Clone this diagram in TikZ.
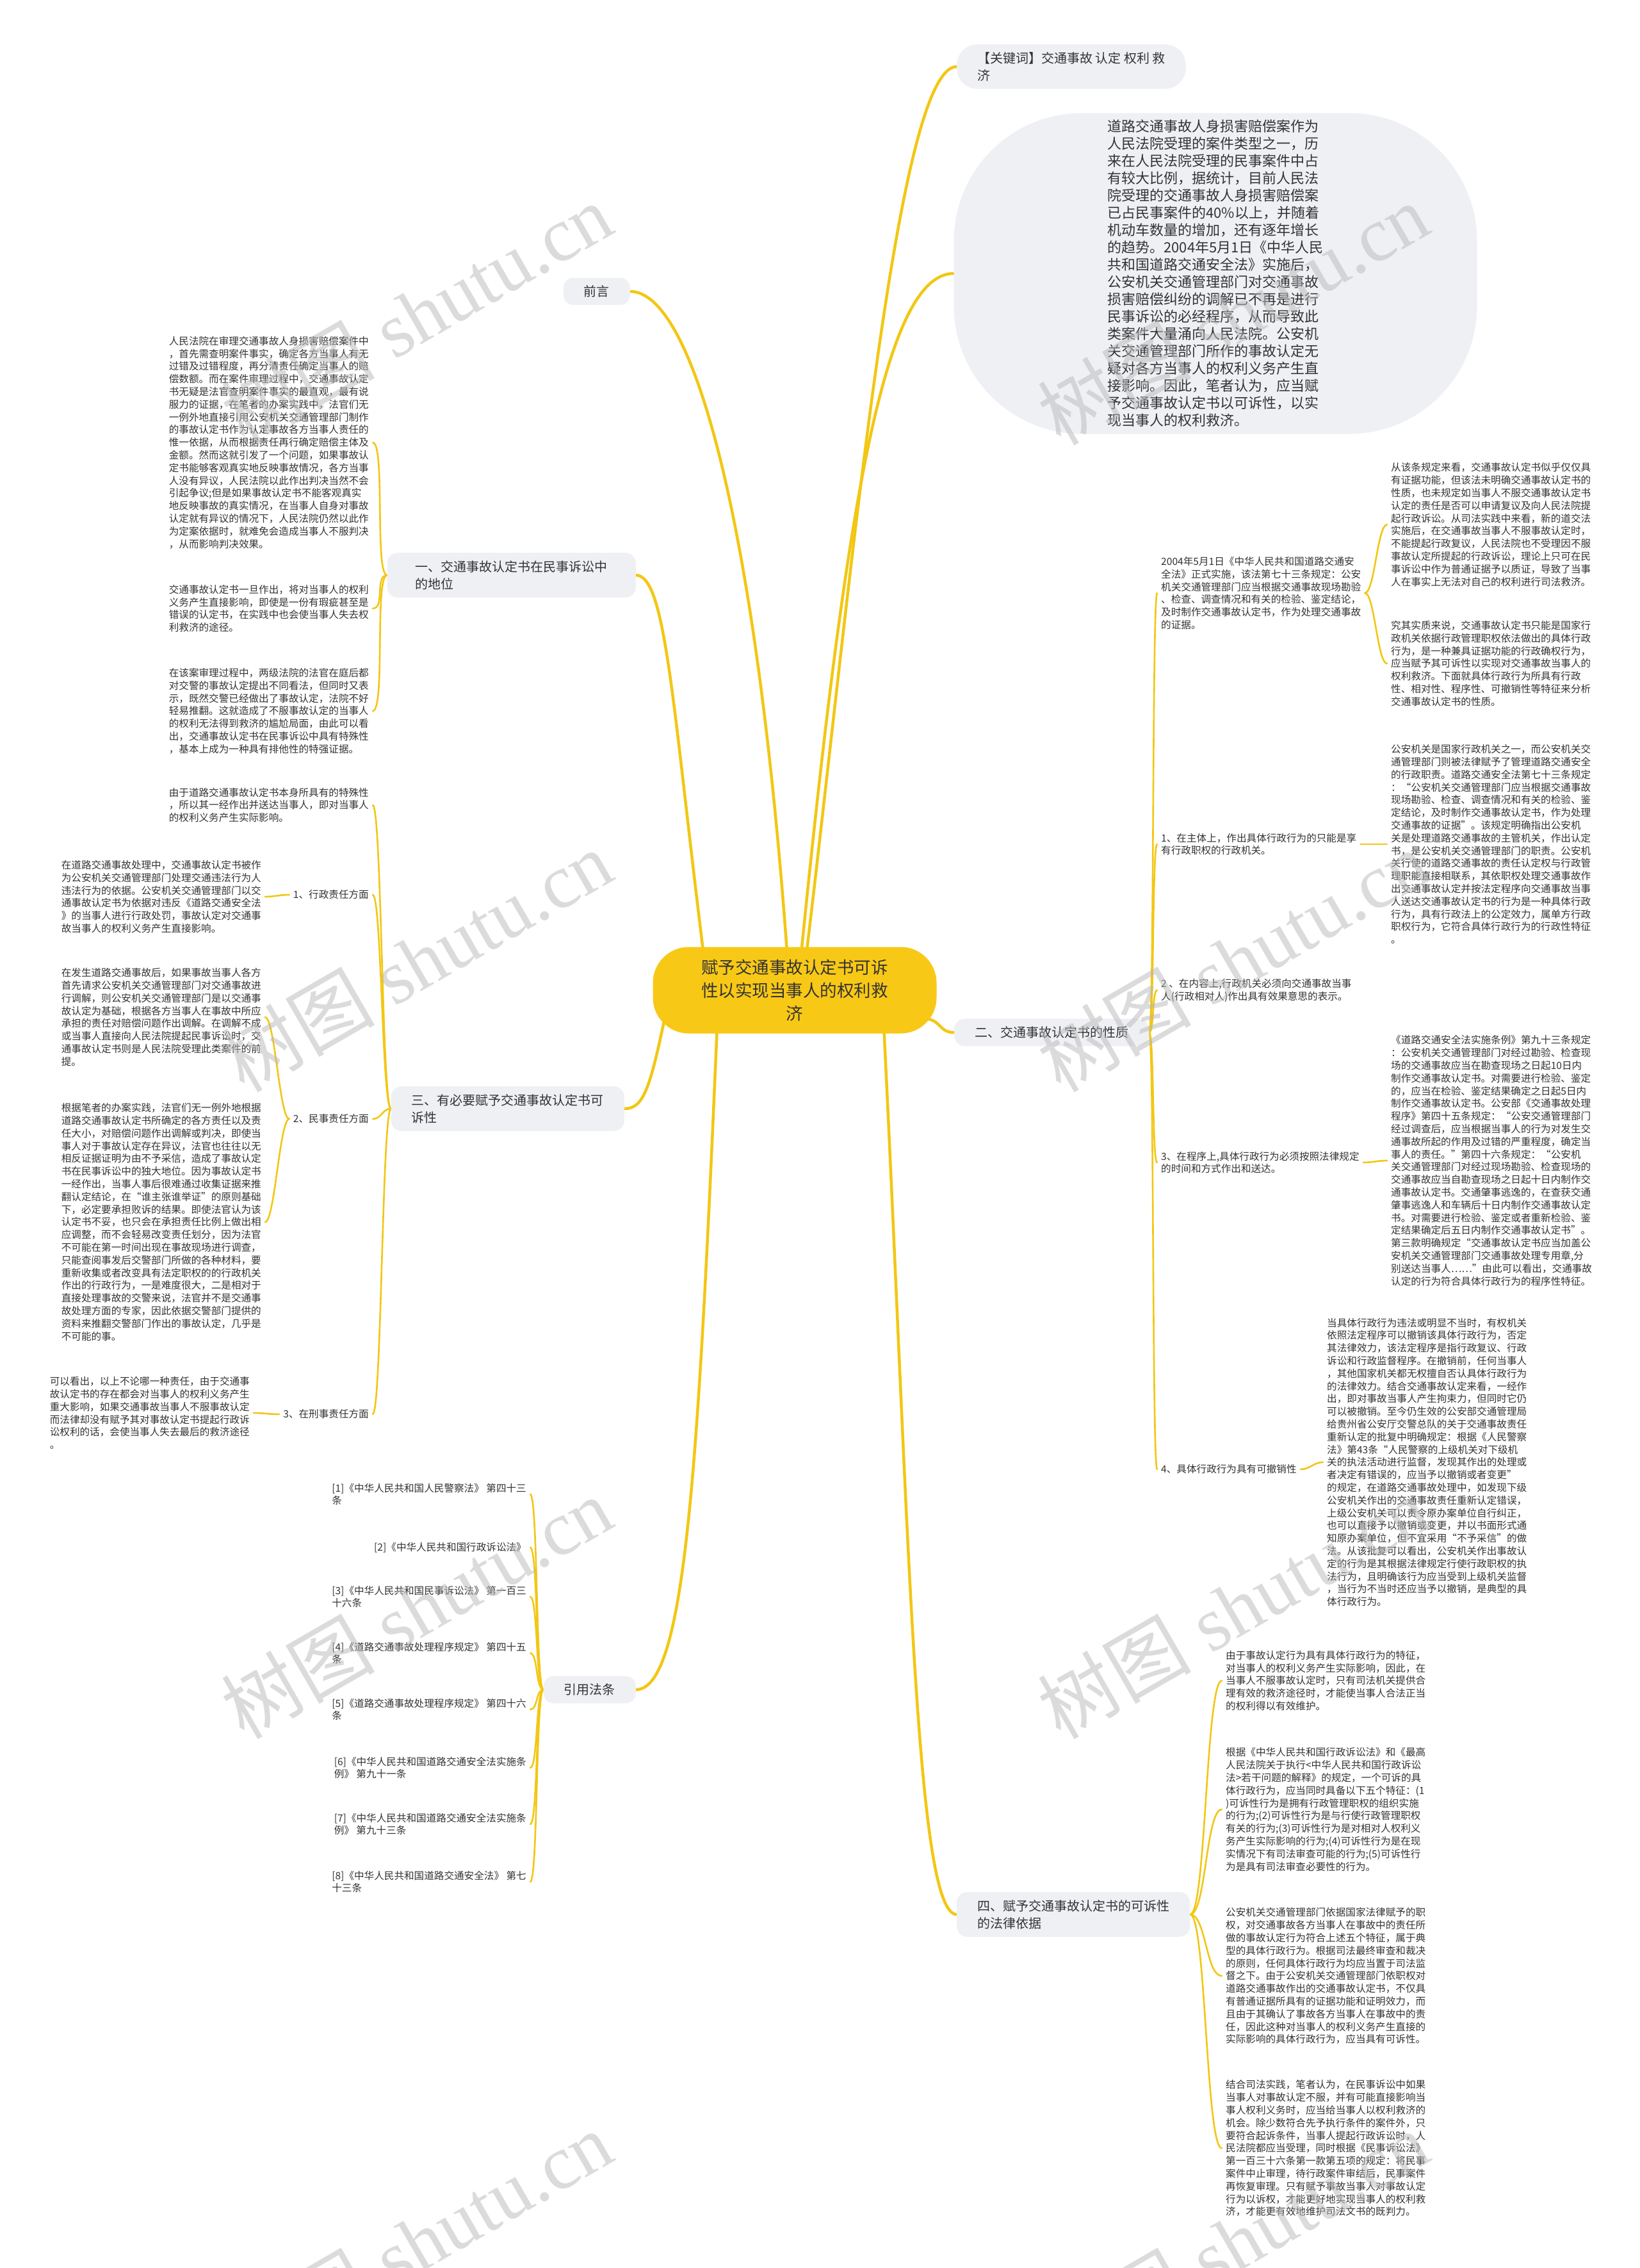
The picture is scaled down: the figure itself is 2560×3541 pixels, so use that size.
\documentclass[tikz,border=0pt]{standalone}
\usepackage{fontspec}
\setmainfont{Noto Sans CJK SC}
\newfontfamily\wmserif{Liberation Serif}
\pgfdeclarelayer{bg}
\pgfsetlayers{bg,main}
\definecolor{lnk}{RGB}{242,199,20}
\definecolor{boxfill}{RGB}{238,240,244}
\definecolor{rootfill}{RGB}{248,200,22}
\definecolor{txt}{RGB}{51,51,51}
\definecolor{wmgray}{RGB}{185,185,185}
\newcommand\cR[3]{\draw[link] (#1) .. controls +(#3,0) and +(-#3,0) .. (#2);}
\newcommand\cL[3]{\draw[link] (#1) .. controls +(-#3,0) and +(#3,0) .. (#2);}
\begin{document}
\begin{tikzpicture}[x=1pt,y=-1pt,
  body/.style={font=\fontsize{15.6}{19.8}\selectfont, text=txt, align=left, inner xsep=6pt, inner ysep=2pt},
  lbl/.style={font=\fontsize{20}{27}\selectfont, text=txt, align=left, fill=boxfill, rounded corners=16pt, inner xsep=32pt, inner ysep=12pt},
  rootnode/.style={fill=rootfill, rounded corners=56pt, minimum width=443pt, minimum height=135pt, align=center, font=\fontsize{26.5}{36}\selectfont, text=txt},
  link/.style={draw=lnk, line width=2.6pt, line cap=round},
  mlink/.style={draw=lnk, line width=4.5pt, line cap=round},
  wm/.style={rotate=30, text=wmgray, opacity=0.5, inner sep=0pt}]
\useasboundingbox (0,0) rectangle (2560,3541);

% root
\node[rootnode] (root) at (1241,1546) {赋予交通事故认定书可诉\\性以实现当事人的权利救\\济};

% top right
\node[lbl, rounded corners=32pt, anchor=west] (kw) at (1494,104) {【关键词】交通事故 认定 权利 救\\济};
\node[fill=boxfill, rounded corners=200pt, minimum width=817pt, minimum height=501pt, align=left, text=txt, font=\fontsize{22}{27}\selectfont] (ell) at (1898,427) {道路交通事故人身损害赔偿案作为\\人民法院受理的案件类型之一，历\\来在人民法院受理的民事案件中占\\有较大比例，据统计，目前人民法\\院受理的交通事故人身损害赔偿案\\已占民事案件的40\%以上，并随着\\机动车数量的增加，还有逐年增长\\的趋势。2004年5月1日《中华人民\\共和国道路交通安全法》实施后，\\公安机关交通管理部门对交通事故\\损害赔偿纠纷的调解已不再是进行\\民事诉讼的必经程序，从而导致此\\类案件大量涌向人民法院。公安机\\关交通管理部门所作的事故认定无\\疑对各方当事人的权利义务产生直\\接影响。因此，笔者认为，应当赋\\予交通事故认定书以可诉性，以实\\现当事人的权利救济。};
\node[lbl, anchor=east] (qy) at (984,455) {前言};

% left branch one
\node[lbl, anchor=east, minimum width=388pt] (b1) at (993,898) {一、交通事故认定书在民事诉讼中\\的地位};
\node[body, anchor=east] (A) at (582,691) {人民法院在审理交通事故人身损害赔偿案件中\\，首先需查明案件事实，确定各方当事人有无\\过错及过错程度，再分清责任确定当事人的赔\\偿数额。而在案件审理过程中，交通事故认定\\书无疑是法官查明案件事实的最直观，最有说\\服力的证据，在笔者的办案实践中，法官们无\\一例外地直接引用公安机关交通管理部门制作\\的事故认定书作为认定事故各方当事人责任的\\惟一依据，从而根据责任再行确定赔偿主体及\\金额。然而这就引发了一个问题，如果事故认\\定书能够客观真实地反映事故情况，各方当事\\人没有异议，人民法院以此作出判决当然不会\\引起争议;但是如果事故认定书不能客观真实\\地反映事故的真实情况，在当事人自身对事故\\认定就有异议的情况下，人民法院仍然以此作\\为定案依据时，就难免会造成当事人不服判决\\，从而影响判决效果。};
\node[body, anchor=east] (B) at (582,950) {交通事故认定书一旦作出，将对当事人的权利\\义务产生直接影响，即使是一份有瑕疵甚至是\\错误的认定书，在实践中也会使当事人失去权\\利救济的途径。};
\node[body, anchor=east] (C) at (582,1110) {在该案审理过程中，两级法院的法官在庭后都\\对交警的事故认定提出不同看法，但同时又表\\示，既然交警已经做出了事故认定，法院不好\\轻易推翻。这就造成了不服事故认定的当事人\\的权利无法得到救济的尴尬局面，由此可以看\\出，交通事故认定书在民事诉讼中具有特殊性\\，基本上成为一种具有排他性的特强证据。};

% left branch three
\node[lbl, anchor=east] (b3) at (975,1731) {三、有必要赋予交通事故认定书可\\诉性};
\node[body, anchor=east] (D) at (582,1257) {由于道路交通事故认定书本身所具有的特殊性\\，所以其一经作出并送达当事人，即对当事人\\的权利义务产生实际影响。};
\node[body, anchor=east] (L1) at (582,1397) {1、行政责任方面};
\node[body, anchor=east] (L2) at (582,1747) {2、民事责任方面};
\node[body, anchor=east] (L3) at (582,2208) {3、在刑事责任方面};
\node[body, anchor=east] (E) at (414,1400) {在道路交通事故处理中，交通事故认定书被作\\为公安机关交通管理部门处理交通违法行为人\\违法行为的依据。公安机关交通管理部门以交\\通事故认定书为依据对违反《道路交通安全法\\》的当事人进行行政处罚，事故认定对交通事\\故当事人的权利义务产生直接影响。};
\node[body, anchor=east] (F) at (414,1588) {在发生道路交通事故后，如果事故当事人各方\\首先请求公安机关交通管理部门对交通事故进\\行调解，则公安机关交通管理部门是以交通事\\故认定为基础，根据各方当事人在事故中所应\\承担的责任对赔偿问题作出调解。在调解不成\\或当事人直接向人民法院提起民事诉讼时，交\\通事故认定书则是人民法院受理此类案件的前\\提。};
\node[body, anchor=east] (G) at (414,1908) {根据笔者的办案实践，法官们无一例外地根据\\道路交通事故认定书所确定的各方责任以及责\\任大小，对赔偿问题作出调解或判决，即使当\\事人对于事故认定存在异议，法官也往往以无\\相反证据证明为由不予采信，造成了事故认定\\书在民事诉讼中的独大地位。因为事故认定书\\一经作出，当事人事后很难通过收集证据来推\\翻认定结论，在“谁主张谁举证”的原则基础\\下，必定要承担败诉的结果。即使法官认为该\\认定书不妥，也只会在承担责任比例上做出相\\应调整，而不会轻易改变责任划分，因为法官\\不可能在第一时间出现在事故现场进行调查，\\只能查阅事发后交警部门所做的各种材料，要\\重新收集或者改变具有法定职权的的行政机关\\作出的行政行为，一是难度很大，二是相对于\\直接处理事故的交警来说，法官并不是交通事\\故处理方面的专家，因此依据交警部门提供的\\资料来推翻交警部门作出的事故认定，几乎是\\不可能的事。};
\node[body, anchor=east] (H) at (396,2206) {可以看出，以上不论哪一种责任，由于交通事\\故认定书的存在都会对当事人的权利义务产生\\重大影响，如果交通事故当事人不服事故认定\\而法律却没有赋予其对事故认定书提起行政诉\\讼权利的话，会使当事人失去最后的救济途径\\。};

% references
\node[lbl, anchor=east] (ref) at (993,2638) {引用法条};
\node[body, anchor=east] (r1) at (828,2333) {[1]《中华人民共和国人民警察法》 第四十三\\条};
\node[body, anchor=east] (r2) at (828,2416) {[2]《中华人民共和国行政诉讼法》};
\node[body, anchor=east] (r3) at (828,2493) {[3]《中华人民共和国民事诉讼法》 第一百三\\十六条};
\node[body, anchor=east] (r4) at (828,2581) {[4]《道路交通事故处理程序规定》 第四十五\\条};
\node[body, anchor=east] (r5) at (828,2669) {[5]《道路交通事故处理程序规定》 第四十六\\条};
\node[body, anchor=east] (r6) at (828,2760) {[6]《中华人民共和国道路交通安全法实施条\\例》 第九十一条};
\node[body, anchor=east] (r7) at (828,2848) {[7]《中华人民共和国道路交通安全法实施条\\例》 第九十三条};
\node[body, anchor=east] (r8) at (828,2938) {[8]《中华人民共和国道路交通安全法》 第七\\十三条};

% right branch two
\node[lbl, anchor=west] (b2) at (1490,1612) {二、交通事故认定书的性质};
\node[body, anchor=west] (I) at (1807,926) {2004年5月1日《中华人民共和国道路交通安\\全法》正式实施，该法第七十三条规定：公安\\机关交通管理部门应当根据交通事故现场勘验\\、检查、调查情况和有关的检验、鉴定结论，\\及时制作交通事故认定书，作为处理交通事故\\的证据。};
\node[body, anchor=west] (J) at (2166,819) {从该条规定来看，交通事故认定书似乎仅仅具\\有证据功能，但该法未明确交通事故认定书的\\性质，也未规定如当事人不服交通事故认定书\\认定的责任是否可以申请复议及向人民法院提\\起行政诉讼。从司法实践中来看，新的道交法\\实施后，在交通事故当事人不服事故认定时，\\不能提起行政复议，人民法院也不受理因不服\\事故认定所提起的行政诉讼，理论上只可在民\\事诉讼中作为普通证据予以质证，导致了当事\\人在事实上无法对自己的权利进行司法救济。};
\node[body, anchor=west] (K) at (2166,1036) {究其实质来说，交通事故认定书只能是国家行\\政机关依据行政管理职权依法做出的具体行政\\行为，是一种兼具证据功能的行政确权行为，\\应当赋予其可诉性以实现对交通事故当事人的\\权利救济。下面就具体行政行为所具有行政\\性、相对性、程序性、可撤销性等特征来分析\\交通事故认定书的性质。};
\node[body, anchor=west] (i1) at (1807,1318) {1、在主体上，作出具体行政行为的只能是享\\有行政职权的行政机关。};
\node[body, anchor=west] (Lt) at (2166,1318) {公安机关是国家行政机关之一，而公安机关交\\通管理部门则被法律赋予了管理道路交通安全\\的行政职责。道路交通安全法第七十三条规定\\：“公安机关交通管理部门应当根据交通事故\\现场勘验、检查、调查情况和有关的检验、鉴\\定结论，及时制作交通事故认定书，作为处理\\交通事故的证据”。该规定明确指出公安机\\关是处理道路交通事故的主管机关，作出认定\\书，是公安机关交通管理部门的职责。公安机\\关行使的道路交通事故的责任认定权与行政管\\理职能直接相联系，其依职权处理交通事故作\\出交通事故认定并按法定程序向交通事故当事\\人送达交通事故认定书的行为是一种具体行政\\行为，具有行政法上的公定效力，属单方行政\\职权行为，它符合具体行政行为的行政性特征\\。};
\node[body, anchor=west] (i2) at (1807,1546) {2 、在内容上,行政机关必须向交通事故当事\\人(行政相对人)作出具有效果意思的表示。};
\node[body, anchor=west] (i3) at (1807,1815) {3、在程序上,具体行政行为必须按照法律规定\\的时间和方式作出和送达。};
\node[body, anchor=west] (M) at (2166,1812) {《道路交通安全法实施条例》第九十三条规定\\：公安机关交通管理部门对经过勘验、检查现\\场的交通事故应当在勘查现场之日起10日内\\制作交通事故认定书。对需要进行检验、鉴定\\的，应当在检验、鉴定结果确定之日起5日内\\制作交通事故认定书。公安部《交通事故处理\\程序》第四十五条规定：“公安交通管理部门\\经过调查后，应当根据当事人的行为对发生交\\通事故所起的作用及过错的严重程度，确定当\\事人的责任。”第四十六条规定：“公安机\\关交通管理部门对经过现场勘验、检查现场的\\交通事故应当自勘查现场之日起十日内制作交\\通事故认定书。交通肇事逃逸的，在查获交通\\肇事逃逸人和车辆后十日内制作交通事故认定\\书。对需要进行检验、鉴定或者重新检验、鉴\\定结果确定后五日内制作交通事故认定书”。\\第三款明确规定“交通事故认定书应当加盖公\\安机关交通管理部门交通事故处理专用章,分\\别送达当事人……”由此可以看出，交通事故\\认定的行为符合具体行政行为的程序性特征。};
\node[body, anchor=west] (i4) at (1807,2294) {4、具体行政行为具有可撤销性};
\node[body, anchor=west] (N) at (2066,2283) {当具体行政行为违法或明显不当时，有权机关\\依照法定程序可以撤销该具体行政行为，否定\\其法律效力，该法定程序是指行政复议、行政\\诉讼和行政监督程序。在撤销前，任何当事人\\，其他国家机关都无权擅自否认具体行政行为\\的法律效力。结合交通事故认定来看，一经作\\出，即对事故当事人产生拘束力，但同时它仍\\可以被撤销。至今仍生效的公安部交通管理局\\给贵州省公安厅交警总队的关于交通事故责任\\重新认定的批复中明确规定：根据《人民警察\\法》第43条“人民警察的上级机关对下级机\\关的执法活动进行监督，发现其作出的处理或\\者决定有错误的，应当予以撤销或者变更”\\的规定，在道路交通事故处理中，如发现下级\\公安机关作出的交通事故责任重新认定错误，\\上级公安机关可以责令原办案单位自行纠正，\\也可以直接予以撤销或变更，并以书面形式通\\知原办案单位，但不宜采用“不予采信”的做\\法。从该批复可以看出，公安机关作出事故认\\定的行为是其根据法律规定行使行政职权的执\\法行为，且明确该行为应当受到上级机关监督\\，当行为不当时还应当予以撤销，是典型的具\\体行政行为。};

% right branch four
\node[lbl, anchor=west] (b4) at (1494,2989) {四、赋予交通事故认定书的可诉性\\的法律依据};
\node[body, anchor=west] (O) at (1908,2624) {由于事故认定行为具有具体行政行为的特征，\\对当事人的权利义务产生实际影响，因此，在\\当事人不服事故认定时，只有司法机关提供合\\理有效的救济途径时，才能使当事人合法正当\\的权利得以有效维护。};
\node[body, anchor=west] (P) at (1908,2825) {根据《中华人民共和国行政诉讼法》和《最高\\人民法院关于执行<中华人民共和国行政诉讼\\法>若干问题的解释》的规定，一个可诉的具\\体行政行为，应当同时具备以下五个特征：(1\\)可诉性行为是拥有行政管理职权的组织实施\\的行为;(2)可诉性行为是与行使行政管理职权\\有关的行为;(3)可诉性行为是对相对人权利义\\务产生实际影响的行为;(4)可诉性行为是在现\\实情况下有司法审查可能的行为;(5)可诉性行\\为是具有司法审查必要性的行为。};
\node[body, anchor=west] (Q) at (1908,3085) {公安机关交通管理部门依据国家法律赋予的职\\权，对交通事故各方当事人在事故中的责任所\\做的事故认定行为符合上述五个特征，属于典\\型的具体行政行为。根据司法最终审查和裁决\\的原则，任何具体行政行为均应当置于司法监\\督之下。由于公安机关交通管理部门依职权对\\道路交通事故作出的交通事故认定书，不仅具\\有普通证据所具有的证据功能和证明效力，而\\且由于其确认了事故各方当事人在事故中的责\\任，因此这种对当事人的权利义务产生直接的\\实际影响的具体行政行为，应当具有可诉性。};
\node[body, anchor=west] (R) at (1908,3354) {结合司法实践，笔者认为，在民事诉讼中如果\\当事人对事故认定不服，并有可能直接影响当\\事人权利义务时，应当给当事人以权利救济的\\机会。除少数符合先予执行条件的案件外，只\\要符合起诉条件，当事人提起行政诉讼时，人\\民法院都应当受理，同时根据《民事诉讼法》\\第一百三十六条第一款第五项的规定：将民事\\案件中止审理，待行政案件审结后，民事案件\\再恢复审理。只有赋予事故当事人对事故认定\\行为以诉权，才能更好地实现当事人的权利救\\济，才能更有效地维护司法文书的既判力。};

\begin{pgfonlayer}{bg}
\fill[white] (0,0) rectangle (2560,3541);
% main links from root
\draw[mlink] (1258,1500) .. controls (1330,900) and (1400,104) .. (kw.west);
\draw[mlink] (1250,1500) .. controls (1320,800) and (1380,427) .. (ell.west);
\draw[mlink] (1230,1500) .. controls (1180,800) and (1080,455) .. (qy.east);
\draw[mlink] (1100,1500) .. controls (1050,1100) and (1040,898) .. (b1.east);
\draw[mlink] (1040,1580) .. controls (1015,1700) and (1005,1731) .. (b3.east);
\draw[mlink] (1120,1600) .. controls (1090,2300) and (1070,2638) .. (ref.east);
\draw[mlink] (1440,1590) .. controls (1470,1590) and (1465,1612) .. (b2.west);
\draw[mlink] (1380,1600) .. controls (1420,2400) and (1430,2989) .. (b4.west);
% branch one
\cL{b1.west}{A.east}{20}
\cL{b1.west}{B.east}{20}
\cL{b1.west}{C.east}{20}
% branch three
\cL{b3.west}{D.east}{14}
\cL{b3.west}{L1.east}{14}
\cL{b3.west}{L2.east}{14}
\cL{b3.west}{L3.east}{14}
\cL{L1.west}{E.east}{15}
\cL{L2.west}{F.east}{15}
\cL{L2.west}{G.east}{15}
\cL{L3.west}{H.east}{15}
% references
\foreach \r in {r1,r2,r3,r4,r5,r6,r7,r8} {\cL{ref.west}{\r.east}{12}}
% branch two
\cR{b2.east}{I.west}{8}
\cR{b2.east}{i1.west}{8}
\cR{b2.east}{i2.west}{8}
\cR{b2.east}{i3.west}{8}
\cR{b2.east}{i4.west}{8}
\cR{I.east}{J.west}{15}
\cR{I.east}{K.west}{15}
\cR{i1.east}{Lt.west}{15}
\cR{i3.east}{M.west}{15}
\cR{i4.east}{N.west}{15}
% branch four
\cR{b4.east}{O.west}{25}
\cR{b4.east}{P.west}{25}
\cR{b4.east}{Q.west}{25}
\cR{b4.east}{R.west}{25}
\end{pgfonlayer}

% watermarks
\foreach \wx/\wy [count=\k] in {650/490,1925/490,650/1500,1925/1500,650/2510,1925/2510,650/3500,1925/3500}
  \node[wm] (wm\k) at (\wx,\wy) {\fontsize{120}{120}\selectfont 树图\hspace{30pt}{\wmserif shutu.cn}};
\end{tikzpicture}
\end{document}
